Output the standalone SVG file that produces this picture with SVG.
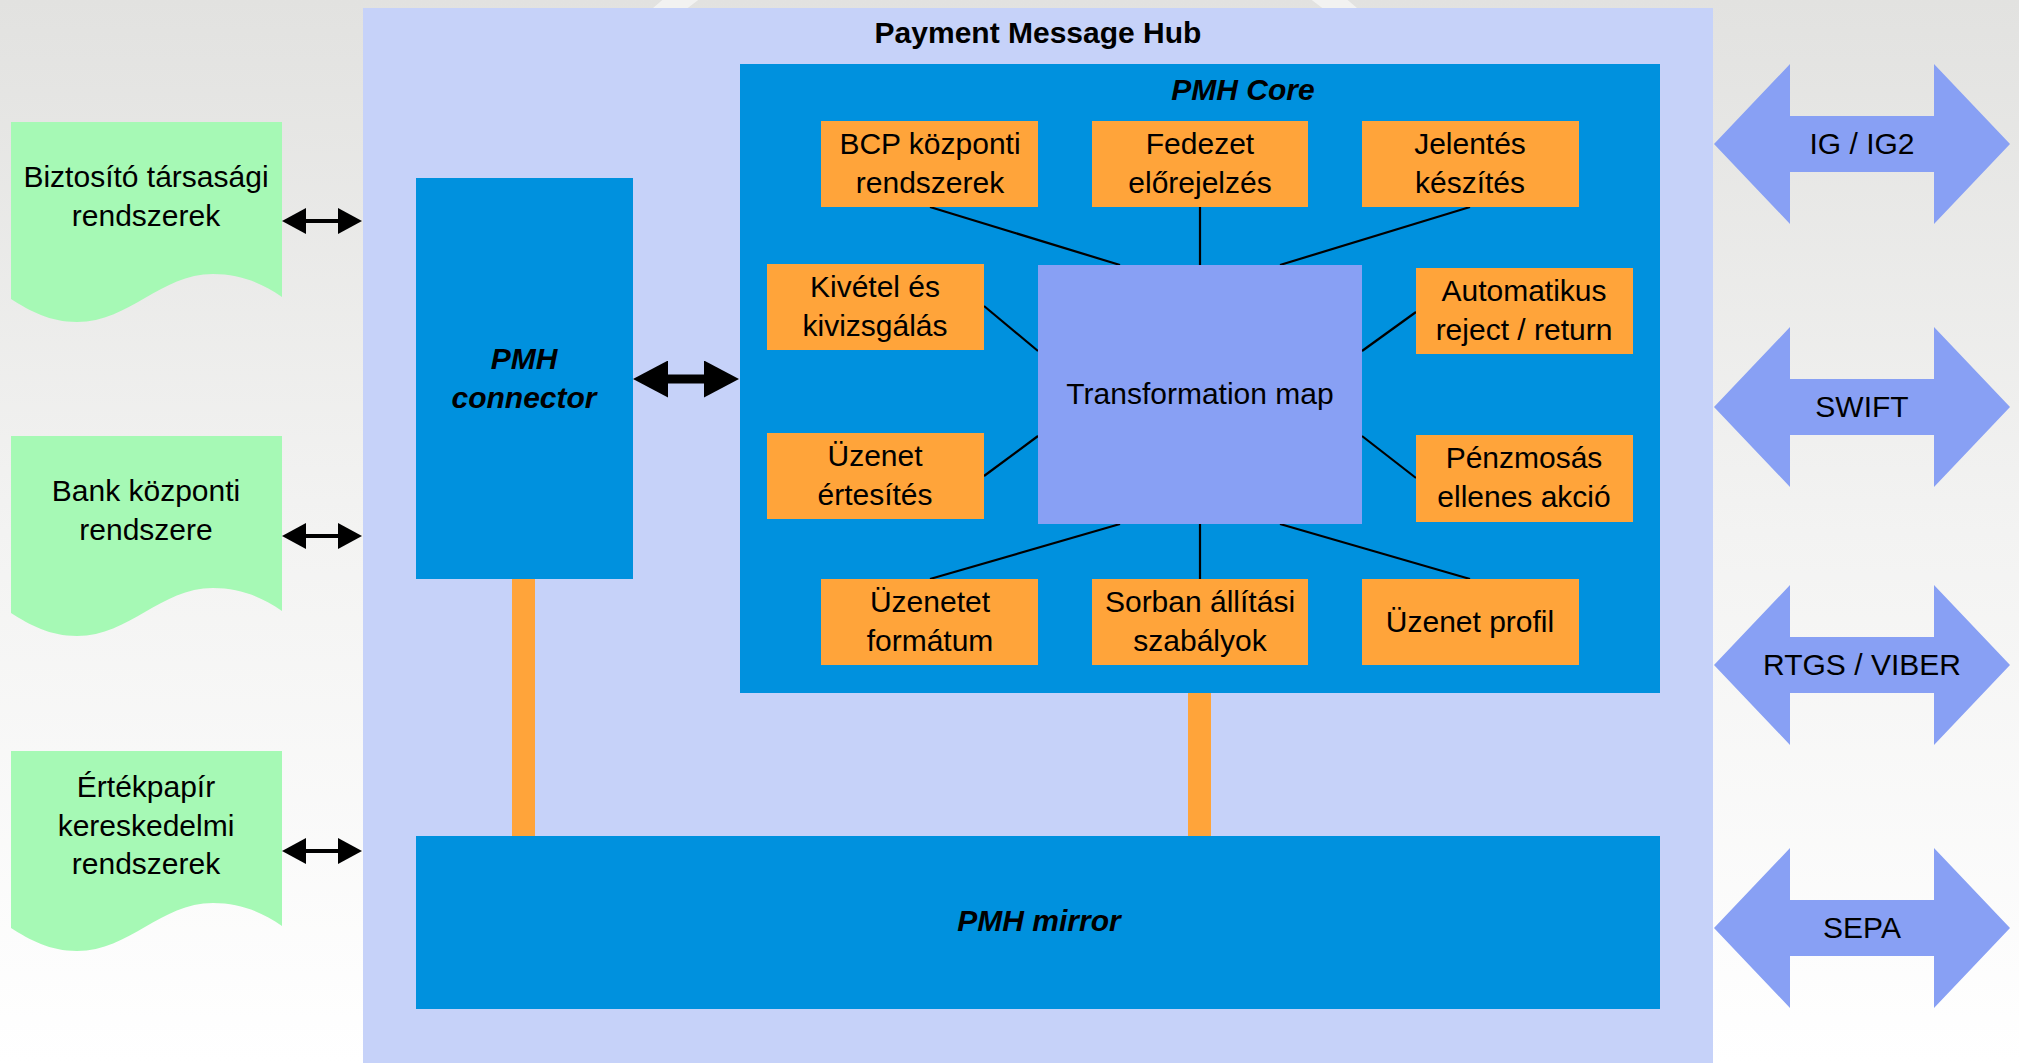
<svg xmlns="http://www.w3.org/2000/svg" xmlns:xlink="http://www.w3.org/1999/xlink" width="2019" height="1063" viewBox="0 0 2019 1063">
  <defs>
    <linearGradient id="bg" x1="0" y1="0" x2="0" y2="1">
      <stop offset="0" stop-color="#e2e2e0"/>
      <stop offset="0.5" stop-color="#f3f3f2"/>
      <stop offset="1" stop-color="#ffffff"/>
    </linearGradient>
    <marker id="smallHead" markerUnits="userSpaceOnUse" markerWidth="24" markerHeight="26" refX="16" refY="13" orient="auto-start-reverse">
      <path d="M0,0 L24,13 L0,26 Z" fill="#000"/>
    </marker>
    <marker id="bigHead" markerUnits="userSpaceOnUse" markerWidth="35" markerHeight="37" refX="23" refY="18.5" orient="auto-start-reverse">
      <path d="M0,0 L35,18.5 L0,37 Z" fill="#000"/>
    </marker>
    <path id="bigArrow" d="M-148,0 L-72,-80 L-72,-28 L72,-28 L72,-80 L148,0 L72,80 L72,28 L-72,28 L-72,80 Z"/>
    <path id="docShape" d="M0,0 H271 V175 C251,161 229,152 202,152 C149,152 119,200 66,200 C39,200 19,189 0,177 Z"/>
  </defs>
  <style>
    text { font-family: "Liberation Sans", Arial, sans-serif; font-size: 30px; fill: #000; text-anchor: middle; }
    .bold { font-weight: bold; }
    .bi { font-weight: bold; font-style: italic; }
    .hub { fill: #c6d2f9; }
    .core { fill: #0091de; }
    .orange { fill: #ffa43a; }
    .tmap { fill: #88a0f4; }
    .doc { fill: #a6f9b5; }
    .ext { fill: #88a0f4; }
    .link { stroke: #000; stroke-width: 2.2; fill: none; }
    .bar { fill: #ffa43a; }
  </style>

  <rect x="0" y="0" width="2019" height="1063" fill="url(#bg)"/>
  <circle cx="1005" cy="420" r="531" fill="none" stroke="#ffffff" stroke-opacity="0.55" stroke-width="22"/>

  <g id="payment-message-hub">
    <rect class="hub" x="363" y="8" width="1350" height="1060"/>
    <text class="bold" x="1038" y="43">Payment Message Hub</text>
  </g>

  <g id="pmh-core">
    <rect class="core" x="740" y="64" width="920" height="629"/>
    <text class="bi" x="1243" y="100">PMH Core</text>
  </g>

  <g id="connectors">
    <line class="link" x1="930" y1="207" x2="1120" y2="265"/>
    <line class="link" x1="1200" y1="207" x2="1200" y2="265"/>
    <line class="link" x1="1470" y1="207" x2="1280" y2="265"/>
    <line class="link" x1="984" y1="306" x2="1038" y2="351"/>
    <line class="link" x1="1362" y1="351" x2="1416" y2="312"/>
    <line class="link" x1="984" y1="476" x2="1038" y2="436"/>
    <line class="link" x1="1362" y1="436" x2="1416" y2="478"/>
    <line class="link" x1="930" y1="579" x2="1120" y2="524"/>
    <line class="link" x1="1200" y1="524" x2="1200" y2="579"/>
    <line class="link" x1="1280" y1="524" x2="1470" y2="579"/>
    <rect class="bar" x="512" y="579" width="23" height="258"/>
    <rect class="bar" x="1188" y="693" width="23" height="144"/>
    <line x1="645" y1="379" x2="727" y2="379" stroke="#000" stroke-width="9" marker-start="url(#bigHead)" marker-end="url(#bigHead)"/>
    <line x1="290" y1="221" x2="354" y2="221" stroke="#000" stroke-width="4" marker-start="url(#smallHead)" marker-end="url(#smallHead)"/>
    <line x1="290" y1="536" x2="354" y2="536" stroke="#000" stroke-width="4" marker-start="url(#smallHead)" marker-end="url(#smallHead)"/>
    <line x1="290" y1="851" x2="354" y2="851" stroke="#000" stroke-width="4" marker-start="url(#smallHead)" marker-end="url(#smallHead)"/>
  </g>

  <g id="bcp">
    <rect class="orange" x="821" y="121" width="217" height="86"/>
    <text x="930" y="154">BCP központi</text>
    <text x="930" y="193">rendszerek</text>
  </g>
  <g id="fedezet">
    <rect class="orange" x="1092" y="121" width="216" height="86"/>
    <text x="1200" y="154">Fedezet</text>
    <text x="1200" y="193">előrejelzés</text>
  </g>
  <g id="jelentes">
    <rect class="orange" x="1362" y="121" width="217" height="86"/>
    <text x="1470" y="154">Jelentés</text>
    <text x="1470" y="193">készítés</text>
  </g>
  <g id="kivetel">
    <rect class="orange" x="767" y="264" width="217" height="86"/>
    <text x="875" y="297">Kivétel és</text>
    <text x="875" y="336">kivizsgálás</text>
  </g>
  <g id="transformation-map">
    <rect class="tmap" x="1038" y="265" width="324" height="259"/>
    <text x="1200" y="404">Transformation map</text>
  </g>
  <g id="automatikus">
    <rect class="orange" x="1416" y="268" width="217" height="86"/>
    <text x="1524" y="301">Automatikus</text>
    <text x="1524" y="340">reject / return</text>
  </g>
  <g id="uzenet-ertesites">
    <rect class="orange" x="767" y="433" width="217" height="86"/>
    <text x="875" y="466">Üzenet</text>
    <text x="875" y="505">értesítés</text>
  </g>
  <g id="penzmosas">
    <rect class="orange" x="1416" y="435" width="217" height="87"/>
    <text x="1524" y="468">Pénzmosás</text>
    <text x="1524" y="507">ellenes akció</text>
  </g>
  <g id="uzenetet-formatum">
    <rect class="orange" x="821" y="579" width="217" height="86"/>
    <text x="930" y="612">Üzenetet</text>
    <text x="930" y="651">formátum</text>
  </g>
  <g id="sorban">
    <rect class="orange" x="1092" y="579" width="216" height="86"/>
    <text x="1200" y="612">Sorban állítási</text>
    <text x="1200" y="651">szabályok</text>
  </g>
  <g id="uzenet-profil">
    <rect class="orange" x="1362" y="579" width="217" height="86"/>
    <text x="1470" y="632">Üzenet profil</text>
  </g>

  <g id="pmh-connector">
    <rect class="core" x="416" y="178" width="217" height="401"/>
    <text class="bi" x="524" y="369">PMH</text>
    <text class="bi" x="524" y="408">connector</text>
  </g>

  <g id="pmh-mirror">
    <rect class="core" x="416" y="836" width="1244" height="173"/>
    <text class="bi" x="1039" y="931">PMH mirror</text>
  </g>

  <g id="biztosito">
    <use xlink:href="#docShape" class="doc" x="11" y="122"/>
    <text x="146" y="187">Biztosító társasági</text>
    <text x="146" y="226">rendszerek</text>
  </g>
  <g id="bank">
    <use xlink:href="#docShape" class="doc" x="11" y="436"/>
    <text x="146" y="501">Bank központi</text>
    <text x="146" y="540">rendszere</text>
  </g>
  <g id="ertekpapir">
    <use xlink:href="#docShape" class="doc" x="11" y="751"/>
    <text x="146" y="797">Értékpapír</text>
    <text x="146" y="836">kereskedelmi</text>
    <text x="146" y="874">rendszerek</text>
  </g>

  <g id="ig">
    <use xlink:href="#bigArrow" class="ext" x="1862" y="144"/>
    <text x="1862" y="154">IG / IG2</text>
  </g>
  <g id="swift">
    <use xlink:href="#bigArrow" class="ext" x="1862" y="407"/>
    <text x="1862" y="417">SWIFT</text>
  </g>
  <g id="rtgs">
    <use xlink:href="#bigArrow" class="ext" x="1862" y="665"/>
    <text x="1862" y="675">RTGS / VIBER</text>
  </g>
  <g id="sepa">
    <use xlink:href="#bigArrow" class="ext" x="1862" y="928"/>
    <text x="1862" y="938">SEPA</text>
  </g>
</svg>
